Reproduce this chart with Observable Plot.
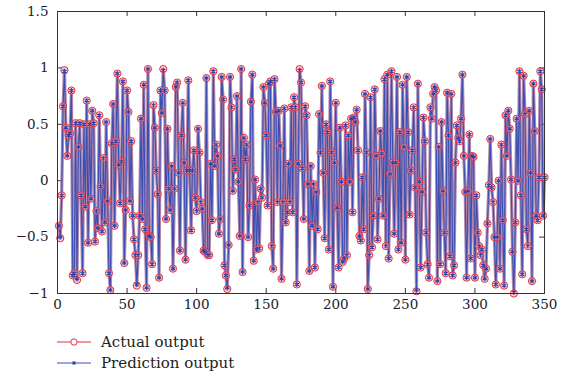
<!DOCTYPE html>
<html>
<head>
<meta charset="utf-8">
<script src="https://cdn.jsdelivr.net/npm/d3@7"></script>
<script src="https://cdn.jsdelivr.net/npm/@observablehq/plot@0.6"></script>
<style>
  html, body { margin: 0; padding: 0; background: #fff; }
  #chart { position: relative; width: 568px; height: 376px; }
  #legend { position: absolute; left: 57px; top: 331px; font-family: "DejaVu Serif", serif; font-size: 15px; color: #222; }
  .row { display: flex; align-items: center; height: 21px; }
  .row svg { margin-right: 10px; }
</style>
</head>
<body>
<div id="chart"></div>
<script>
const xTicks = [0, 50, 100, 150, 200, 250, 300, 350];
const yTicks = [-1, -0.5, 0, 0.5, 1, 1.5];
const seriesNames = ["Actual output", "Prediction output"];

const actual = [
-0.40,-0.51,-0.13,0.66,0.98,0.47,0.22,0.40,0.42,0.80,-0.84,-0.82,0.51,-0.88,0.30,0.51,-0.13,-0.82,0.50,-0.23,
0.71,-0.55,0.50,-0.16,0.62,0.51,-0.54,-0.27,-0.42,0.58,-0.05,-0.45,0.20,-0.37,0.52,-0.18,-0.82,-0.97,0.33,0.68,
-0.40,0.35,0.95,0.14,-0.20,0.17,0.88,-0.73,-0.26,0.80,
0.61,-0.18,0.35,-0.31,-0.52,-0.66,-0.93,-0.66,-0.31,0.55,-0.34,0.85,-0.43,-0.95,0.99,-0.49,-0.50,-0.74,0.67,0.47,
0.09,-0.12,-0.86,0.80,0.60,0.99,0.80,-0.34,0.46,-0.07,-0.26,0.13,-0.78,-0.07,0.83,0.87,0.07,-0.62,0.40,0.69,
0.16,-0.70,0.09,0.89,0.09,-0.44,0.09,0.27,-0.15,-0.27,
0.46,0.25,-0.19,-0.25,-0.62,-0.63,0.91,-0.66,-0.66,0.15,-0.35,0.97,0.13,0.32,0.22,-0.47,-0.34,0.92,0.72,-0.75,
-0.84,-0.96,-0.57,0.92,0.65,-0.09,0.19,0.10,0.75,-0.01,-0.49,0.99,-0.81,0.38,0.19,0.32,-0.50,-0.22,0.70,0.94,
-0.71,0.01,-0.61,-0.19,-0.60,-0.07,-0.15,0.83,0.69,0.40,
-0.22,0.86,0.88,-0.58,-0.78,0.90,0.61,-0.19,0.62,0.31,-0.87,-0.19,0.64,-0.37,-0.28,0.15,-0.19,0.65,-0.28,0.74,
0.65,-0.92,0.15,0.99,0.87,0.11,-0.34,0.66,0.58,-0.03,-0.80,0.13,-0.40,-0.03,-0.77,-0.10,-0.43,0.59,0.25,0.84,
0.07,-0.51,0.50,0.43,-0.61,0.88,0.25,-0.94,0.16,0.69,
-0.24,-0.77,0.47,-0.01,-0.72,-0.69,0.49,-0.66,0.40,-0.01,0.55,-0.28,0.56,0.52,0.63,0.27,-0.49,-0.53,0.03,-0.43,
0.77,0.25,-0.96,-0.66,0.74,-0.59,-0.31,0.81,0.22,-0.52,-0.16,0.44,0.24,-0.31,0.90,-0.58,0.94,-0.69,0.06,0.97,
0.16,-0.47,0.16,0.92,-0.61,0.43,-0.55,0.85,0.30,-0.70,
0.92,0.43,-0.30,0.09,0.27,0.65,-0.06,-0.98,0.86,-0.01,-0.77,-0.10,0.56,0.35,-0.46,-0.74,-0.86,0.65,0.55,0.77,
0.83,0.80,-0.89,0.30,-0.74,0.52,-0.09,-0.46,-0.82,0.78,0.40,-0.67,0.77,-0.84,-0.75,0.16,0.49,0.38,0.35,0.55,
0.94,0.22,-0.10,-0.86,-0.09,0.41,-0.69,0.22,0.21,-0.86,
-0.13,-0.46,-0.58,-0.66,-0.61,-0.75,-0.87,-0.78,-0.38,-0.04,0.37,-0.06,-0.19,-0.50,-0.92,-0.50,0.00,-0.78,0.32,-0.35,
-0.93,0.58,0.22,0.62,0.46,0.01,-0.63,-1.00,-0.37,0.55,0.00,0.97,-0.13,-0.83,0.93,0.59,-0.43,-0.58,0.62,0.07,
-0.89,0.86,0.44,-0.31,-0.35,0.03,0.97,0.81,-0.31,0.03
];

const prediction = [
-0.40,-0.50,-0.13,0.66,0.97,0.47,0.22,0.40,0.42,0.80,-0.84,-0.82,0.51,-0.87,0.30,0.51,-0.13,-0.82,0.50,-0.23,
0.71,-0.55,0.50,-0.16,0.62,0.51,-0.54,-0.27,-0.42,0.58,-0.05,-0.45,0.20,-0.37,0.52,-0.18,-0.82,-0.97,0.33,0.68,
-0.40,0.35,0.95,0.14,-0.20,0.17,0.88,-0.73,-0.26,0.80,
0.61,-0.18,0.35,-0.31,-0.52,-0.66,-0.92,-0.66,-0.31,0.55,-0.34,0.85,-0.43,-0.95,0.99,-0.49,-0.50,-0.74,0.67,0.47,
0.09,-0.12,-0.86,0.80,0.60,0.98,0.80,-0.34,0.46,-0.07,-0.26,0.13,-0.78,-0.07,0.83,0.87,0.07,-0.62,0.40,0.69,
0.16,-0.70,0.09,0.89,0.09,-0.44,0.09,0.27,-0.15,-0.27,
0.46,0.25,-0.19,-0.25,-0.62,-0.63,0.91,-0.66,-0.66,0.15,-0.35,0.97,0.13,0.32,0.22,-0.47,-0.34,0.92,0.72,-0.75,
-0.84,-0.95,-0.57,0.92,0.65,-0.09,0.19,0.10,0.75,-0.01,-0.49,0.99,-0.81,0.38,0.19,0.32,-0.50,-0.22,0.70,0.94,
-0.71,0.01,-0.61,-0.19,-0.60,-0.07,-0.15,0.83,0.69,0.40,
-0.22,0.86,0.88,-0.58,-0.78,0.90,0.61,-0.19,0.62,0.31,-0.87,-0.19,0.64,-0.37,-0.28,0.15,-0.19,0.65,-0.28,0.74,
0.65,-0.92,0.15,0.98,0.87,0.11,-0.34,0.66,0.58,-0.03,-0.80,0.13,-0.40,-0.03,-0.77,-0.10,-0.43,0.59,0.25,0.84,
0.07,-0.51,0.50,0.43,-0.61,0.88,0.25,-0.94,0.16,0.69,
-0.24,-0.77,0.47,-0.01,-0.72,-0.69,0.49,-0.66,0.40,-0.01,0.55,-0.28,0.56,0.52,0.63,0.27,-0.49,-0.53,0.03,-0.43,
0.77,0.25,-0.96,-0.66,0.74,-0.59,-0.31,0.81,0.22,-0.52,-0.16,0.44,0.24,-0.31,0.90,-0.58,0.94,-0.69,0.06,0.97,
0.16,-0.47,0.16,0.92,-0.61,0.43,-0.55,0.85,0.30,-0.70,
0.92,0.43,-0.30,0.09,0.27,0.65,-0.06,-0.97,0.86,-0.01,-0.77,-0.10,0.56,0.35,-0.46,-0.74,-0.86,0.65,0.55,0.77,
0.83,0.80,-0.89,0.30,-0.74,0.52,-0.09,-0.46,-0.82,0.78,0.40,-0.67,0.77,-0.84,-0.75,0.16,0.49,0.38,0.35,0.55,
0.94,0.22,-0.10,-0.86,-0.09,0.41,-0.69,0.22,0.21,-0.86,
-0.13,-0.46,-0.58,-0.66,-0.61,-0.75,-0.87,-0.78,-0.38,-0.04,0.37,-0.06,-0.19,-0.50,-0.92,-0.50,0.00,-0.78,0.32,-0.35,
-0.93,0.58,0.22,0.62,0.46,0.01,-0.63,-0.99,-0.37,0.55,0.00,0.97,-0.13,-0.83,0.93,0.59,-0.43,-0.58,0.62,0.07,
-0.89,0.86,0.44,-0.31,-0.35,0.03,0.97,0.81,-0.31,0.03
];

const actualData = actual.map((v, i) => ({x: i + 1, y: v}));
const predData = prediction.map((v, i) => ({x: i + 1, y: v}));

const W = 568, H = 318;
const mL = 57, mR = 24, mT = 11, mB = 25;
const innerH = H - mT - mB;
const innerW = W - mL - mR;
const tickLen = 5;
const fmt = d => d === 0 ? "0" : String(d).replace("-", "\u2212");

const plot = Plot.plot({
  width: W, height: H,
  marginLeft: mL, marginRight: mR, marginTop: mT, marginBottom: mB,
  style: {fontFamily: "'DejaVu Serif', serif", fontSize: "13.5px", color: "#1a1a2a", background: "#fff"},
  x: {domain: [0, 350], label: null},
  y: {domain: [-1, 1.5], label: null},
  marks: [
    Plot.axisX(xTicks, {anchor: "bottom", tickSize: 0, tickPadding: 6, tickFormat: fmt, label: null}),
    Plot.axisY(yTicks, {anchor: "left", tickSize: 0, tickPadding: 9, tickFormat: fmt, label: null}),
    Plot.ruleX(xTicks, {x: d => d, insetTop: innerH - tickLen, stroke: "#333"}),
    Plot.ruleX(xTicks, {x: d => d, insetBottom: innerH - tickLen, stroke: "#333"}),
    Plot.ruleY(yTicks, {y: d => d, insetRight: innerW - tickLen, stroke: "#333"}),
    Plot.ruleY(yTicks, {y: d => d, insetLeft: innerW - tickLen, stroke: "#333"}),
    Plot.line(actualData, {x: "x", y: "y", stroke: "#9e6a98", strokeWidth: 3.2, strokeOpacity: 0.8}),
    Plot.line(predData, {x: "x", y: "y", stroke: "#3b4fb3", strokeWidth: 1.1}),
    Plot.dot(actualData, {x: "x", y: "y", r: 3.6, stroke: "#e8303a", strokeWidth: 1, fill: "#f0a8b8", fillOpacity: 0.55}),
    Plot.dot(predData, {x: "x", y: "y", symbol: "asterisk", r: 2.3, stroke: "#2c44b0", strokeWidth: 1.1}),
    Plot.frame({stroke: "#333", strokeWidth: 1})
  ]
});
document.getElementById("chart").appendChild(plot);

const legend = document.createElement("div");
legend.id = "legend";
legend.innerHTML = `
  <div class="row">
    <svg width="34" height="10"><line x1="0" y1="5" x2="34" y2="5" stroke="#e8303a" stroke-width="1.2"/><circle cx="17" cy="5" r="3.2" fill="#fff" stroke="#e8303a" stroke-width="1"/></svg>
    <span>${seriesNames[0]}</span>
  </div>
  <div class="row">
    <svg width="34" height="10"><line x1="0" y1="5" x2="34" y2="5" stroke="#3b4fb3" stroke-width="1.2"/><g stroke="#2c44b0" stroke-width="1"><line x1="15" y1="5" x2="19" y2="5"/><line x1="17" y1="3" x2="17" y2="7"/><line x1="15.6" y1="3.6" x2="18.4" y2="6.4"/><line x1="15.6" y1="6.4" x2="18.4" y2="3.6"/></g></svg>
    <span>${seriesNames[1]}</span>
  </div>`;
document.getElementById("chart").appendChild(legend);
</script>
</body>
</html>
